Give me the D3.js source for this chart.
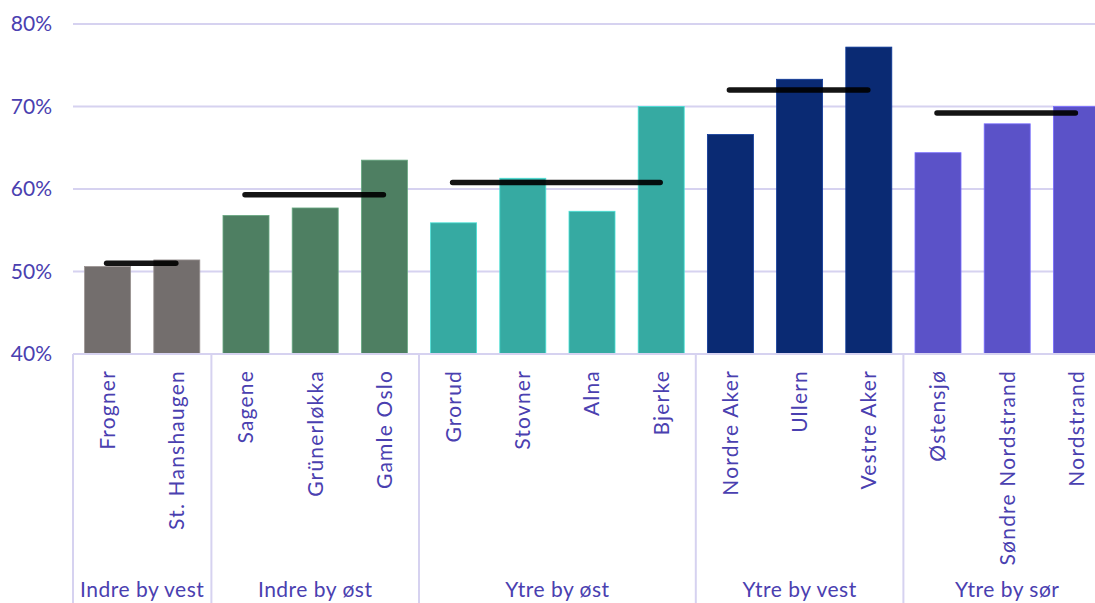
<!DOCTYPE html>
<html>
<head>
<meta charset="utf-8">
<script src="https://cdn.jsdelivr.net/npm/d3@7"></script>
<style>
  body { margin: 0; background: #fff; }
  svg { display: block; }
  text { font-family: Lato, "Open Sans", sans-serif; fill: #4a40b0; }
</style>
</head>
<body>
<div id="chart"></div>
<script>
// district data, in display order
const districts = ["Frogner", "St. Hanshaugen", "Sagene", "Grünerløkka", "Gamle Oslo",
  "Grorud", "Stovner", "Alna", "Bjerke", "Nordre Aker", "Ullern", "Vestre Aker",
  "Østensjø", "Søndre Nordstrand", "Nordstrand"];
const values = [50.6, 51.4, 56.8, 57.7, 63.5, 55.9, 61.3, 57.3, 70.0, 66.6, 73.3, 77.2, 64.4, 67.9, 70.0];
const districtGroup = [0, 0, 1, 1, 1, 2, 2, 2, 2, 3, 3, 3, 4, 4, 4];

// groups and their averages (black lines)
const groups = ["Indre by vest", "Indre by øst", "Ytre by øst", "Ytre by vest", "Ytre by sør"];
const groupAverages = [51.0, 59.3, 60.8, 72.0, 69.2];
const groupColors = ["#736e6d", "#4e7f62", "#36aaa2", "#0a2a73", "#5b52c8"];

const yTicks = [40, 50, 60, 70, 80];

const W = 1095, H = 603;
const left = 73, step = 69.2, axisY = 354, topY = 24;

const svg = d3.select("#chart").append("svg")
  .attr("width", W).attr("height", H);

const x = d3.scaleBand()
  .domain(districts)
  .range([left, left + step * districts.length])
  .paddingInner(0.335)
  .paddingOuter(0.1675);

const y = d3.scaleLinear()
  .domain([40, 80])
  .range([axisY, topY]);

// gridlines
svg.append("g")
  .selectAll("line")
  .data(yTicks.slice(1))
  .enter()
  .append("line")
  .attr("x1", left).attr("x2", W)
  .attr("y1", d => y(d)).attr("y2", d => y(d))
  .attr("stroke", "#d6d2f0")
  .attr("stroke-width", 2);

// y tick labels
svg.append("g")
  .selectAll("text")
  .data(yTicks)
  .enter()
  .append("text")
  .attr("x", 52)
  .attr("y", d => y(d))
  .attr("dy", "0.35em")
  .attr("text-anchor", "end")
  .style("font-size", "21px")
  .text(d => d + "%");

// bars
svg.append("g")
  .selectAll("rect")
  .data(districts)
  .enter()
  .append("rect")
  .attr("x", d => x(d))
  .attr("width", x.bandwidth())
  .attr("y", (d, i) => y(values[i]))
  .attr("height", (d, i) => y(40) - y(values[i]))
  .attr("fill", (d, i) => groupColors[districtGroup[i]])
  .attr("stroke", (d, i) => d3.color(groupColors[districtGroup[i]]).brighter(0.8))
  .attr("stroke-width", 0.8);

// group average lines
svg.append("g")
  .selectAll("line")
  .data(groups)
  .enter()
  .append("line")
  .attr("x1", (g, gi) => {
    const first = districts.find((d, i) => districtGroup[i] === gi);
    return x(first) + x.bandwidth() / 2 - 1;
  })
  .attr("x2", (g, gi) => {
    const members = districts.filter((d, i) => districtGroup[i] === gi);
    return x(members[members.length - 1]) + x.bandwidth() / 2 - 1;
  })
  .attr("y1", (g, gi) => y(groupAverages[gi]))
  .attr("y2", (g, gi) => y(groupAverages[gi]))
  .attr("stroke", "#000")
  .attr("stroke-opacity", 0.92)
  .attr("stroke-width", 5.5)
  .attr("stroke-linecap", "round");

// x axis line
svg.append("line")
  .attr("x1", left).attr("x2", W)
  .attr("y1", axisY).attr("y2", axisY)
  .attr("stroke", "#d6d2f0")
  .attr("stroke-width", 2);

// group separators (left edge + boundaries)
const boundaries = [0];
districtGroup.forEach((g, i) => {
  if (i > 0 && g !== districtGroup[i - 1]) boundaries.push(i);
});
svg.append("g")
  .selectAll("line")
  .data(boundaries)
  .enter()
  .append("line")
  .attr("x1", i => left + step * i).attr("x2", i => left + step * i)
  .attr("y1", axisY).attr("y2", H)
  .attr("stroke", "#d6d2f0")
  .attr("stroke-width", 2);

// district labels (rotated)
svg.append("g")
  .selectAll("text")
  .data(districts)
  .enter()
  .append("text")
  .attr("transform", d => `translate(${x(d) + x.bandwidth() / 2},370) rotate(-90)`)
  .attr("dy", "0.35em")
  .attr("text-anchor", "end")
  .style("font-size", "21px")
  .style("letter-spacing", "1.2px")
  .text(d => d);

// group labels
svg.append("g")
  .selectAll("text")
  .data(groups)
  .enter()
  .append("text")
  .attr("x", (g, gi) => {
    const idx = districts.map((d, i) => i).filter(i => districtGroup[i] === gi);
    return left + step * (idx[0] + idx[idx.length - 1] + 1) / 2;
  })
  .attr("y", 590)
  .attr("dy", "0.35em")
  .attr("text-anchor", "middle")
  .style("font-size", "21px")
  .style("letter-spacing", "0.5px")
  .text(g => g);
</script>
</body>
</html>
